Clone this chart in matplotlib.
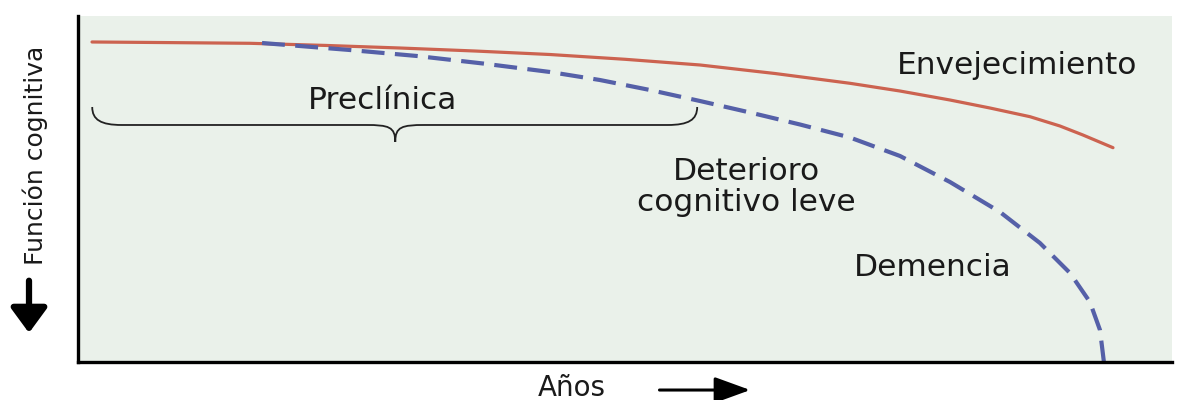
import matplotlib.pyplot as plt
from matplotlib.path import Path
from matplotlib.patches import PathPatch

# aging curve (x = años, y = función cognitiva, both 0-100)
aging_x = [1.28, 8.41, 15.72, 22.58, 29.43, 36.29, 43.14, 50.0, 56.86, 63.71,
           70.57, 75.14, 79.71, 83.36, 87.02, 89.76, 91.86, 94.61]
aging_y = [92.49, 92.31, 92.11, 91.5, 90.75, 89.88, 88.87, 87.49, 85.84, 83.38,
           80.55, 78.32, 75.72, 73.41, 70.9, 68.21, 65.61, 61.94]

# dementia path (dashed)
dem_x = [16.82, 24.86, 30.99, 37.02, 43.14, 47.71, 52.29, 56.86, 61.43, 66.0,
         70.57, 75.14, 79.71, 84.28, 87.93, 90.68, 92.5, 93.42, 93.78]
dem_y = [92.2, 90.17, 88.44, 86.27, 83.82, 81.5, 78.61, 75.43, 72.11, 68.64,
         64.88, 59.54, 52.02, 43.35, 34.39, 25.72, 17.34, 9.25, 0.0]

# brace: left / middle / right x, and top / line / tip y
brace_x = [1.3, 29.0, 56.6]
brace_y = [73.7, 68.5, 63.6]

labels = ['Envejecimiento', 'Preclínica', 'Deterioro\ncognitivo leve', 'Demencia']
label_x = [85.8, 27.8, 61.1, 78.1]
label_y = [85.8, 75.7, 50.6, 27.2]

fig = plt.figure(figsize=(11.82, 4), dpi=100)
ax = fig.add_axes([0.066, 0.095, 0.9255, 0.865])
ax.set_facecolor('#eaf1ea')
ax.set_xlim(0, 100)
ax.set_ylim(0, 100)
ax.set_xticks([])
ax.set_yticks([])
for s in ['top', 'right']:
    ax.spines[s].set_visible(False)
for s in ['left', 'bottom']:
    ax.spines[s].set_linewidth(2.4)
    ax.spines[s].set_color('black')

ax.plot(aging_x, aging_y, color='#cc6350', lw=2.3, solid_capstyle='round',
        solid_joinstyle='round')
ax.plot(dem_x, dem_y, color='#5560a8', lw=3, dashes=(5.5, 2.5), clip_on=False)

# curly brace
x0, xm, x1 = brace_x
yt, yl, yp = brace_y
d = 2.7
verts = [(x0, yt), (x0, yl + 1.5), (x0 + 0.8, yl), (x0 + d, yl),
         (xm - d, yl),
         (xm - 0.6, yl), (xm, yl - 0.5), (xm, yp),
         (xm, yl - 0.5), (xm + 0.6, yl), (xm + d, yl),
         (x1 - d, yl),
         (x1 - 0.8, yl), (x1, yl + 1.5), (x1, yt)]
codes = [Path.MOVETO, Path.CURVE4, Path.CURVE4, Path.CURVE4,
         Path.LINETO,
         Path.CURVE4, Path.CURVE4, Path.CURVE4,
         Path.CURVE4, Path.CURVE4, Path.CURVE4,
         Path.LINETO,
         Path.CURVE4, Path.CURVE4, Path.CURVE4]
ax.add_patch(PathPatch(Path(verts, codes), fc='none', ec='#222222', lw=1.3))

for t, x, y in zip(labels, label_x, label_y):
    ax.text(x, y, t, ha='center', va='center', fontsize=22.5, color='#1a1a1a',
            linespacing=1.1)

# axis labels with arrows
ax.text(0.4516, -0.075, 'Años', transform=ax.transAxes, ha='center', va='center',
        fontsize=20, color='#1a1a1a')
ax.annotate('', xy=(0.617, -0.081), xytext=(0.529, -0.081), xycoords='axes fraction',
            arrowprops=dict(arrowstyle='-|>,head_length=2.2,head_width=0.8',
                            color='black', lw=2.2))
ax.text(-0.039, 0.598, 'Función cognitiva', transform=ax.transAxes, rotation=90,
        ha='center', va='center', fontsize=18, color='#1a1a1a')
ax.annotate('', xy=(-0.0448, 0.076), xytext=(-0.0448, 0.243), xycoords='axes fraction',
            arrowprops=dict(arrowstyle='-|>,head_length=1.5,head_width=1.1',
                            color='black', lw=4.5))

fig.savefig('out.png', dpi=100)
